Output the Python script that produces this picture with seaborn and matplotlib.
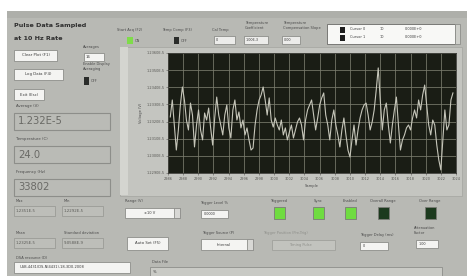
import numpy as np
import pandas as pd
import matplotlib
matplotlib.use("Agg")
import matplotlib.pyplot as plt
from matplotlib.patches import Rectangle
import seaborn as sns

# ---------------- data ----------------
voltage_e5 = [
    1.23227, 1.23326, 1.23180, 1.23034, 1.23151, 1.23297, 1.23402, 1.23326, 1.23209, 1.23151,
    1.23308, 1.23238, 1.23052, 1.23180, 1.23268, 1.23151, 1.23093, 1.23250, 1.23209, 1.23279,
    1.23163, 1.23063, 1.23221, 1.23343, 1.23238, 1.23180, 1.23122, 1.23238, 1.23297, 1.23163,
    1.23104, 1.23268, 1.23326, 1.23209, 1.23256, 1.23163, 1.23209, 1.23122, 1.23163, 1.23093,
    1.23034, 1.23046, 1.23180, 1.23268, 1.23326, 1.23355, 1.23402, 1.23326, 1.23238, 1.23338,
    1.23209, 1.23168, 1.23221, 1.23180, 1.23151, 1.23209, 1.23122, 1.23163, 1.23093, 1.23139,
    1.23180, 1.23104, 1.23151, 1.23198, 1.23221, 1.23180, 1.23093, 1.23209, 1.23268, 1.23297,
    1.23326, 1.23238, 1.23151, 1.23221, 1.23297, 1.23338, 1.23367, 1.23238, 1.23180, 1.23093,
    1.23209, 1.23268, 1.23180, 1.23122, 1.23052, 1.23151, 1.23221, 1.23122, 1.23034, 1.22993,
    1.23093, 1.23180, 1.23063, 1.23151, 1.23221, 1.23268, 1.23297, 1.23308, 1.23238, 1.23151,
    1.23198, 1.23268, 1.23384, 1.23513, 1.23326, 1.23151, 1.23268, 1.23308, 1.23180, 1.23075,
    1.23180, 1.23268, 1.23343, 1.23180, 1.23034, 1.23093, 1.23122, 1.23163, 1.23180, 1.23151,
    1.23221, 1.23268, 1.23221, 1.23326, 1.23268, 1.23355, 1.23413, 1.23297, 1.23180, 1.23122,
    1.23209, 1.23180, 1.23063, 1.22976, 1.22918, 1.23093, 1.23268, 1.23151, 1.23180, 1.23326,
    1.23367,
]
sample_start = 2986.3
sample_step = 0.2664
x_ticks = list(range(2986, 3025, 2))
y_ticks_e5 = [1.2290, 1.2300, 1.2310, 1.2320, 1.2330, 1.2340, 1.2350, 1.2360]

samples = sample_start + sample_step * np.arange(len(voltage_e5))
df = pd.DataFrame({"Sample": samples, "Voltage": voltage_e5})

# ---------------- figure ----------------
W, H = 467, 276
fig = plt.figure(figsize=(W / 100, H / 100), dpi=100)
fig.patch.set_facecolor("white")
bg = fig.add_axes([0, 0, 1, 1])
bg.set_xlim(0, W)
bg.set_ylim(H, 0)
bg.axis("off")

PANEL = "#b8b9b4"
TXT = "#3a3a3a"
LBL = "#4a4a4a"

def rect(x0, y0, x1, y1, fc, ec="none", lw=0.6, z=1):
    bg.add_patch(Rectangle((x0, y0), x1 - x0, y1 - y0, facecolor=fc,
                           edgecolor=ec, linewidth=lw, zorder=z))

def txt(x, y, s, fs=2.8, c=LBL, ha="left", va="center", **kw):
    bg.text(x, y, s, fontsize=fs, color=c, ha=ha, va=va, zorder=5, **kw)

# panel
rect(7, 11, 467, 276, PANEL)
rect(7, 11, 467, 18, "#aeafaa")
# graph frame
rect(120, 47, 462, 196, "#c4c5c0", ec="#a8a9a4")
rect(120, 47, 128, 195, "#d4d5d0")

# title
txt(14, 25, "Pulse Data Sampled", fs=4.6, c="#2e2e2e", weight="bold")
txt(14, 38, "at 10 Hz Rate", fs=4.6, c="#2e2e2e", weight="bold")

# buttons
for (x0, y0, x1, y1, s) in [(14, 50, 57, 61, "Clear Plot (F1)"),
                            (14, 69, 63, 80, "Log Data (F4)"),
                            (14, 89, 44, 100, "Exit (Esc)")]:
    rect(x0, y0, x1, y1, "#f4f4f2", ec="#8d8e8a")
    txt((x0 + x1) / 2, (y0 + y1) / 2, s, fs=2.8, c=TXT, ha="center")

# averages
txt(83, 47, "Averages", fs=2.6)
rect(84, 53, 104, 61, "#f4f4f2", ec="#8d8e8a")
txt(86, 57, "16", fs=2.8, c=TXT)
txt(83, 64, "Enable Display", fs=2.6)
txt(83, 69, "Averaging", fs=2.6)
rect(84, 77, 89, 85, "#2a2c2a")
txt(91, 81, "OFF", fs=2.4)

# big indicators
for (y, lab, val) in [(106, "Average (V)", "1.232E-5"),
                      (139, "Temperature (C)", "24.0"),
                      (172, "Frequency (Hz)", "33802")]:
    txt(16, y, lab, fs=2.8)
    rect(14, y + 7, 110, y + 24, "#babbb6", ec="#8d8e8a", lw=0.8)
    txt(18, y + 15.5, val, fs=7.2, c="#6a6a66")

# stats
for (x, y, lab, val) in [(16, 201, "Max", "1.2351E-5"), (64, 201, "Min", "1.2292E-5"),
                         (16, 233, "Mean", "1.2325E-5"), (64, 233, "Standard deviation", "9.0588E-9")]:
    txt(x, y, lab, fs=2.6)
    rect(x - 2, y + 5, x + 39, y + 15, "#bdbeb9", ec="#9a9b96")
    txt(x, y + 10, val, fs=2.8, c="#5a5a56")

txt(16, 258, "DSA resource (D)", fs=2.6)
rect(14, 262, 130, 273, "#f4f4f2", ec="#8d8e8a")
txt(20, 267.5, "USB-4431(DS-NI4431)-18-3D0-2008", fs=2.6, c=TXT)

# top controls above graph
txt(117, 30, "Start Acq (F2)", fs=2.6)
rect(127, 37, 133, 44, "#7fdc4a")
txt(135, 40.5, "ON", fs=2.4)
txt(162, 30, "Temp Comp (F3)", fs=2.6)
rect(174, 37, 179, 44, "#2a2c2a")
txt(181, 40.5, "OFF", fs=2.4)
txt(212, 30, "Cal Temp", fs=2.6)
rect(214, 36, 235, 44, "#ececea", ec="#8d8e8a")
txt(216, 40, "0", fs=2.4, c=TXT)
txt(245, 23, "Temperature", fs=2.6)
txt(245, 28, "Coefficient", fs=2.6)
rect(244, 36, 268, 44, "#ececea", ec="#8d8e8a")
txt(246, 40, "1.00E-3", fs=2.4, c=TXT)
txt(283, 23, "Temperature", fs=2.6)
txt(283, 28, "Compensation Slope", fs=2.6)
rect(282, 36, 300, 44, "#ececea", ec="#8d8e8a")
txt(284, 40, "0.00", fs=2.4, c=TXT)

# cursor legend
rect(327, 24, 455, 44, "#f8f8f6", ec="#6a6a66")
rect(455, 24, 460, 44, "#cfd0cb", ec="#8d8e8a")
for i, yy in enumerate([29.5, 37.5]):
    rect(340, yy - 3, 345, yy + 3, "#1e1e1e")
    txt(350, yy, f"Cursor {i}", fs=2.5, c=TXT)
    txt(380, yy, "10", fs=2.5, c=TXT)
    txt(405, yy, "0.000E+0", fs=2.5, c=TXT)

# bottom controls
txt(125, 201, "Range (V)", fs=2.6)
rect(125, 208, 180, 218, "#f4f4f2", ec="#8d8e8a")
rect(174, 208, 180, 218, "#d8d8d5", ec="#8d8e8a")
txt(150, 213, "±10 V", fs=2.6, c=TXT, ha="center")
rect(127, 237, 168, 250, "#f4f4f2", ec="#8d8e8a")
txt(147.5, 243.5, "Auto Set (F5)", fs=2.8, c=TXT, ha="center")
txt(200, 203, "Trigger Level %", fs=2.6)
rect(201, 210, 228, 218, "#f4f4f2", ec="#8d8e8a")
txt(204, 214, "0.0000", fs=2.4, c=TXT)
txt(202, 233, "Trigger Source (P)", fs=2.6)
rect(201, 239, 253, 250, "#f4f4f2", ec="#8d8e8a")
rect(247, 239, 253, 250, "#d8d8d5", ec="#8d8e8a")
txt(224, 244.5, "Internal", fs=2.6, c=TXT, ha="center")
txt(263, 233, "Trigger Position (Pre-Trig)", fs=2.6, c="#8e8f8a")
rect(272, 240, 335, 250, "#c2c3be", ec="#a0a19c")
txt(300, 245, "Timing Pulse", fs=2.6, c="#8e8f8a", ha="center")
txt(360, 235, "Trigger Delay (ms)", fs=2.6)
rect(360, 242, 388, 250, "#f4f4f2", ec="#8d8e8a")
txt(363, 246, "0", fs=2.4, c=TXT)
txt(414, 228, "Attenuation", fs=2.6)
txt(414, 233, "Factor", fs=2.6)
rect(416, 240, 438, 248, "#f4f4f2", ec="#8d8e8a")
txt(419, 244, "1.00", fs=2.4, c=TXT)

for (x0, lab, col) in [(274, "Triggered", "#6fdc40"), (313, "Sync", "#6fdc40"),
                       (345, "Enabled", "#6fdc40"), (378, "Overall Range", "#1c3a1e"),
                       (425, "Over Range", "#1c3a1e")]:
    txt(x0 + 5, 201, lab, fs=2.6, ha="center")
    rect(x0, 207, x0 + 11, 219, col, ec="#7a7b76")

txt(152, 262, "Data File", fs=2.6)
rect(150, 267, 442, 278, "#c9cac5", ec="#8d8e8a")
txt(153, 272, "%", fs=2.6, c=TXT)

# ---------------- graph ----------------
px0, py0, px1, py1 = 168, 53, 456, 173
ax = fig.add_axes([px0 / W, (H - py1) / H, (px1 - px0) / W, (py1 - py0) / H])
ax.set_facecolor("#1a1d15")
sns.lineplot(data=df, x="Sample", y="Voltage", ax=ax, color="#c6c6ba",
             linewidth=0.8, legend=False)
ax.set_xlim(2986, 3024)
ax.set_ylim(1.2290, 1.2360)
ax.set_xticks(x_ticks)
ax.set_xticklabels([str(t) for t in x_ticks], fontsize=2.5, color="#555551")
ax.set_yticks(y_ticks_e5)
ax.set_yticklabels([f"{v:.4f}E-5" for v in y_ticks_e5], fontsize=2.5, color="#555551")
ax.tick_params(length=1.2, width=0.4, pad=1.5, colors="#555551")
ax.grid(True, color="#7b7d6e", linewidth=0.55)
ax.set_axisbelow(True)
for s in ax.spines.values():
    s.set_color("#3a3a36")
    s.set_linewidth(0.6)
ax.set_xlabel("Sample", fontsize=2.6, color="#4a4a4a", labelpad=2)
ax.set_ylabel("Voltage (V)", fontsize=2.6, color="#4a4a4a", labelpad=2)

fig.savefig("out.png", dpi=100, facecolor="white")
